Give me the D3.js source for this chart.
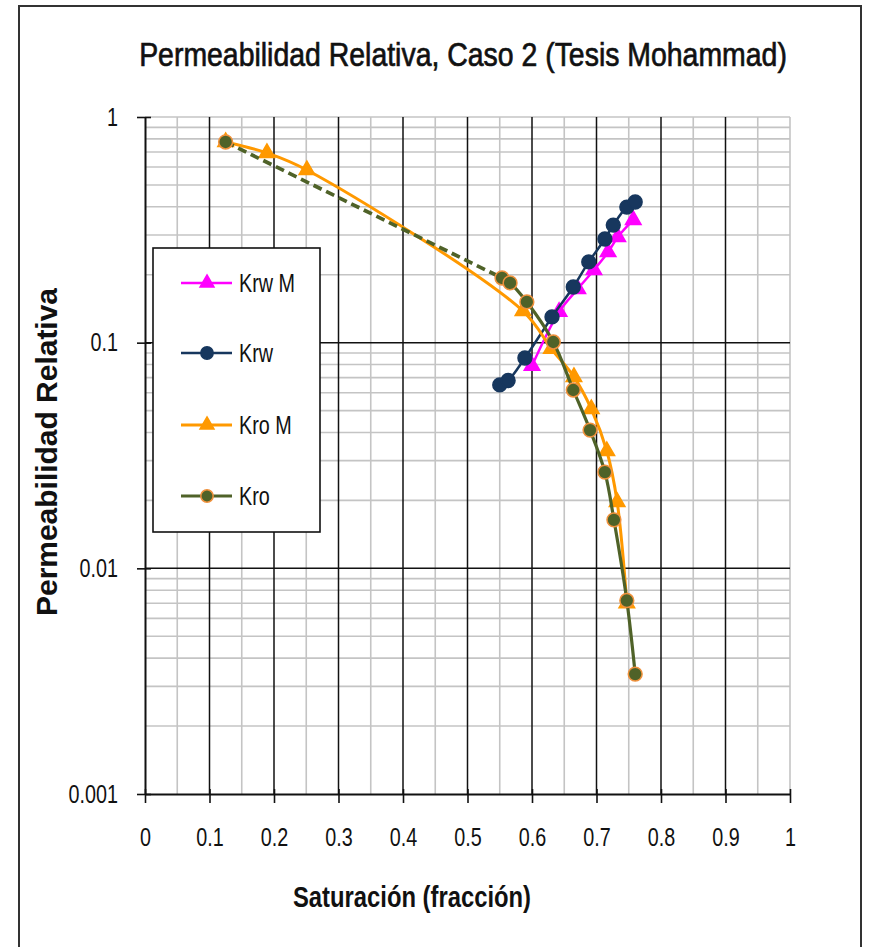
<!DOCTYPE html>
<html>
<head>
<meta charset="utf-8">
<script src="https://cdn.jsdelivr.net/npm/d3@7"></script>
<style>
  body { margin: 0; background: #fff; }
  text { font-family: "Liberation Sans Narrow", "Arial Narrow", "Liberation Sans", Arial, sans-serif; fill: #111; }
</style>
</head>
<body>
<svg id="chart" width="877" height="947"></svg>
<script>
// Saturation (fraction) and relative permeability for each curve
const krwMSat = [0.600, 0.642, 0.671, 0.696, 0.718, 0.733, 0.757];
const krwMVal = [0.079, 0.137, 0.173, 0.210, 0.252, 0.294, 0.350];

const krwSat = [0.550, 0.563, 0.589, 0.631, 0.664, 0.688, 0.713, 0.726, 0.747, 0.760];
const krwVal = [0.065, 0.068, 0.0855, 0.130, 0.1765, 0.228, 0.288, 0.332, 0.399, 0.420];

const kroMSat = [0.125, 0.189, 0.251, 0.586, 0.630, 0.665, 0.692, 0.716, 0.732, 0.747];
const kroMVal = [0.775, 0.693, 0.582, 0.138, 0.094, 0.0705, 0.0508, 0.0331, 0.0197, 0.0070];

const kroSat = [0.125, 0.5535, 0.566, 0.592, 0.633, 0.664, 0.690, 0.713, 0.727, 0.747, 0.760];
const kroVal = [0.775, 0.1935, 0.184, 0.1515, 0.1007, 0.0617, 0.041, 0.0267, 0.0164, 0.0072, 0.0034];

const seriesNames = ["Krw M", "Krw", "Kro M", "Kro"];

const xTickValues = [0, 0.1, 0.2, 0.3, 0.4, 0.5, 0.6, 0.7, 0.8, 0.9, 1];
const xTickLabels = ["0", "0.1", "0.2", "0.3", "0.4", "0.5", "0.6", "0.7", "0.8", "0.9", "1"];
const yTickValues = [0.001, 0.01, 0.1, 1];
const yTickLabels = ["0.001", "0.01", "0.1", "1"];

const titleText = "Permeabilidad Relativa, Caso 2 (Tesis Mohammad)";
const xTitle = "Saturación (fracción)";
const yTitle = "Permeabilidad Relativa";

const svg = d3.select("#chart");

// condensed look: squeeze each label horizontally
function condense(sel, k = 0.76) {
  sel.each(function() {
    const w = this.getComputedTextLength();
    d3.select(this).attr("textLength", w * k).attr("lengthAdjust", "spacingAndGlyphs");
  });
}

// chart frame
svg.append("rect")
  .attr("x", 19).attr("y", 6).attr("width", 842).attr("height", 970)
  .attr("fill", "#fff").attr("stroke", "#333").attr("stroke-width", 2);

const x = d3.scaleLinear().domain([0, 1]).range([145, 790]);
const y = d3.scaleLog().domain([0.001, 1]).range([794, 117]);

const grid = svg.append("g");
const minorColor = "#c4c4c4";

// minor vertical lines every 0.05
d3.range(1, 20, 2).map(i => i * 0.05).forEach(v => {
  grid.append("line").attr("x1", x(v)).attr("x2", x(v)).attr("y1", y(1)).attr("y2", y(0.001))
    .attr("stroke", minorColor).attr("stroke-width", 1.6);
});
// minor horizontal lines 2..9 within each decade
[0.001, 0.01, 0.1].forEach(d => {
  d3.range(2, 10).forEach(m => {
    const v = d * m;
    grid.append("line").attr("x1", x(0)).attr("x2", x(1)).attr("y1", y(v)).attr("y2", y(v))
      .attr("stroke", minorColor).attr("stroke-width", 1.6);
  });
});
// plot border (top / right)
grid.append("line").attr("x1", x(0)).attr("x2", x(1)).attr("y1", y(1)).attr("y2", y(1))
  .attr("stroke", minorColor).attr("stroke-width", 1.6);
grid.append("line").attr("x1", x(1)).attr("x2", x(1)).attr("y1", y(1)).attr("y2", y(0.001))
  .attr("stroke", minorColor).attr("stroke-width", 1.6);
// major lines
xTickValues.filter(v => v > 0 && v < 1).forEach(v => {
  grid.append("line").attr("x1", x(v)).attr("x2", x(v)).attr("y1", y(1)).attr("y2", y(0.001))
    .attr("stroke", "#111").attr("stroke-width", 1.5);
});
[0.01, 0.1].forEach(v => {
  grid.append("line").attr("x1", x(0)).attr("x2", x(1)).attr("y1", y(v)).attr("y2", y(v))
    .attr("stroke", "#111").attr("stroke-width", 1.5);
});

// axes
const tickFont = "'Liberation Sans Narrow','Arial Narrow','Liberation Sans',Arial,sans-serif";
const yAxis = svg.append("g").attr("transform", `translate(${x(0)},0)`)
  .call(d3.axisLeft(y).tickValues(yTickValues).tickFormat((d, i) => yTickLabels[i])
    .tickSizeInner(8).tickSizeOuter(0).tickPadding(19));
yAxis.select(".domain").attr("stroke", "#111").attr("stroke-width", 2);
yAxis.selectAll(".tick line").attr("x1", 6).attr("stroke", "#111").attr("stroke-width", 1.6);
yAxis.selectAll(".tick text").attr("font-size", 26).attr("fill", "#111")
  .style("font-family", tickFont)
  .call(condense);

const xAxis = svg.append("g").attr("transform", `translate(0,${y(0.001)})`)
  .call(d3.axisBottom(x).tickValues(xTickValues).tickFormat((d, i) => xTickLabels[i])
    .tickSizeInner(9).tickSizeOuter(0).tickPadding(25));
xAxis.select(".domain").attr("stroke", "#111").attr("stroke-width", 2);
xAxis.selectAll(".tick line").attr("y1", -5).attr("stroke", "#111").attr("stroke-width", 1.6);
xAxis.selectAll(".tick text").attr("font-size", 26).attr("fill", "#111")
  .style("font-family", tickFont)
  .call(condense);

// series
const series = [
  { name: seriesNames[0], sat: krwMSat, val: krwMVal, color: "#ff00ff", fill: "#ff00ff", edge: "#ff00ff", shape: d3.symbolTriangle, size: 105, width: 2.5 },
  { name: seriesNames[1], sat: krwSat, val: krwVal, color: "#17375e", fill: "#17375e", edge: "#17375e", shape: d3.symbolCircle, size: 150, width: 2.5 },
  { name: seriesNames[2], sat: kroMSat, val: kroMVal, color: "#ff9900", fill: "#ff9900", edge: "#ff9900", shape: d3.symbolTriangle, size: 105, width: 3 },
  { name: seriesNames[3], sat: kroSat, val: kroVal, color: "#4f6228", fill: "#4f6228", edge: "#f0913c", shape: d3.symbolCircle, size: 150, width: 3.2, dashedLead: true }
];

const line = d3.line().x(d => x(d[0])).y(d => y(d[1])).curve(d3.curveCatmullRom.alpha(0.5));
const plot = svg.append("g");

series.forEach(s => {
  const pts = s.sat.map((v, i) => [v, s.val[i]]);
  const g = plot.append("g");
  if (s.dashedLead) {
    g.append("path").attr("d", d3.line().x(d => x(d[0])).y(d => y(d[1]))(pts.slice(0, 2)))
      .attr("fill", "none").attr("stroke", s.color).attr("stroke-width", s.width + 0.5)
      .attr("stroke-dasharray", "9,5");
    g.append("path").attr("d", line(pts.slice(1)))
      .attr("fill", "none").attr("stroke", s.color).attr("stroke-width", s.width);
  } else {
    g.append("path").attr("d", line(pts))
      .attr("fill", "none").attr("stroke", s.color).attr("stroke-width", s.width);
  }
  g.selectAll("path.mk").data(pts).join("path").attr("class", "mk")
    .attr("transform", d => `translate(${x(d[0])},${y(d[1])})`)
    .attr("d", d3.symbol().type(s.shape).size(s.size))
    .attr("fill", s.fill).attr("stroke", s.edge).attr("stroke-width", 1.5);
});

// legend
const legend = svg.append("g");
legend.append("rect").attr("x", 153).attr("y", 248).attr("width", 167).attr("height", 284)
  .attr("fill", "#fff").attr("stroke", "#111").attr("stroke-width", 1.6);
const legendRows = [283, 353, 425, 496];
series.forEach((s, i) => {
  const ly = legendRows[i];
  legend.append("line").attr("x1", 181).attr("x2", 232).attr("y1", ly).attr("y2", ly)
    .attr("stroke", s.color).attr("stroke-width", s.width);
  legend.append("path").attr("transform", `translate(207,${ly})`)
    .attr("d", d3.symbol().type(s.shape).size(s.size * 0.8))
    .attr("fill", s.fill).attr("stroke", s.edge).attr("stroke-width", 1.5);
  legend.append("text").attr("x", 239).attr("y", ly + 9).attr("font-size", 26).text(s.name)
    .call(condense);
});

// chart title, squeezed horizontally to a fixed width
const titleG = svg.append("g");
const title = titleG.append("text").attr("x", 0).attr("y", 0).attr("text-anchor", "middle")
  .attr("font-size", 34).attr("stroke", "#111").attr("stroke-width", 0.7)
  .text(titleText);
const titleW = title.node().getComputedTextLength();
titleG.attr("transform", `translate(463,66) scale(${648 / titleW},1)`);

svg.append("text").attr("x", 412).attr("y", 907).attr("text-anchor", "middle")
  .attr("font-size", 30).attr("font-weight", "bold")
  .attr("textLength", 238).attr("lengthAdjust", "spacingAndGlyphs")
  .text(xTitle);
svg.append("text").attr("transform", "translate(57,452) rotate(-90)").attr("text-anchor", "middle")
  .attr("font-size", 29).attr("font-weight", "bold")
  .attr("textLength", 328).attr("lengthAdjust", "spacingAndGlyphs")
  .text(yTitle);
</script>
</body>
</html>
